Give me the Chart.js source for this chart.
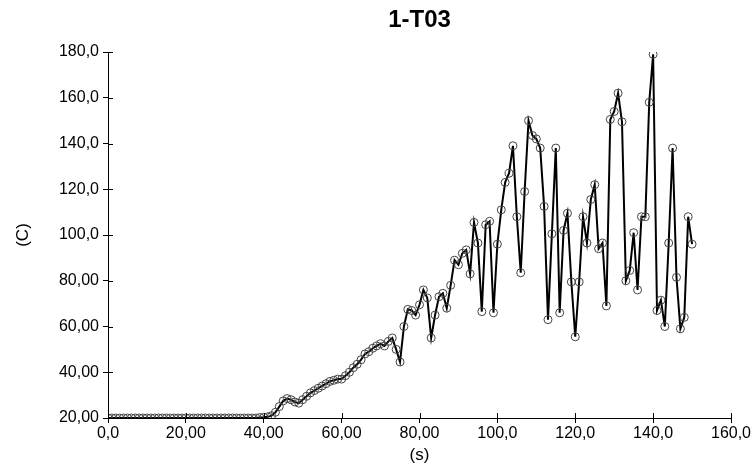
<!DOCTYPE html>
<html lang="en">
  <head>
    <meta charset="UTF-8" />
    <title>1-T03</title>
    <script src="https://cdn.jsdelivr.net/npm/chart.js"></script>
    <style>
      html, body { margin: 0; padding: 0; background: #fff; }
      .chart-box { width: 753px; height: 466px; }
    </style>
  </head>
  <body>
    <div class="chart-box">
      <canvas id="lineChart"></canvas>
    </div>
    <script>
      // time (s)
      const times = [
        0, 1, 2, 3, 4, 5, 6, 7, 8, 9, 10, 11, 12, 13, 14, 15, 16, 17, 18, 19,
        20, 21, 22, 23, 24, 25, 26, 27, 28, 29, 30, 31, 32, 33, 34, 35, 36, 37, 38, 39,
        40, 41, 42, 43, 44, 45, 46, 47, 48, 49, 50, 51, 52, 53, 54, 55, 56, 57, 58, 59,
        60, 61, 62, 63, 64, 65, 66, 67, 68, 69, 70, 71, 72, 73, 74, 75, 76, 77, 78, 79,
        80, 81, 82, 83, 84, 85, 86, 87, 88, 89, 90, 91, 92, 93, 94, 95, 96, 97, 98, 99,
        100, 101, 102, 103, 104, 105, 106, 107, 108, 109, 110, 111, 112, 113, 114, 115, 116, 117, 118, 119,
        120, 121, 122, 123, 124, 125, 126, 127, 128, 129, 130, 131, 132, 133, 134, 135, 136, 137, 138, 139,
        140, 141, 142, 143, 144, 145, 146, 147, 148, 149, 150
      ];
      // temperature (C)
      const temps = [
        20, 20, 20, 20, 20, 20, 20, 20, 20, 20, 20, 20, 20, 20, 20, 20, 20, 20, 20, 20,
        20, 20, 20, 20, 20, 20, 20, 20, 20, 20, 20, 20, 20, 20, 20, 20, 20, 20, 20, 20.2,
        20.3, 20.5, 21, 22.5, 25, 27.5, 28.5, 28, 27, 26.5, 28, 29.5, 31, 32, 33, 34, 35, 36, 36.5, 37,
        37, 38.5, 40, 42, 43.5, 45.5, 48, 49, 50.5, 51.5, 52.5, 51.5, 53.5, 55, 50, 44.5, 60, 67.5, 67, 65,
        69.5, 76, 72.5, 55, 65, 73, 74.5, 68, 78, 89, 87, 92, 93.5, 83, 105.5, 96.5, 66.5, 104.5, 106, 66,
        96, 111, 123, 127, 139, 108, 83.5, 119, 150, 143.5, 142, 138, 112.5, 63, 100.5, 138, 66, 102, 109.5, 79.5,
        55.5, 79.5, 108, 96.5, 115.5, 122, 94, 96.5, 69, 150.5, 154, 162, 149.5, 80, 84.5, 101, 76, 108, 108, 158,
        179, 67, 71.5, 60, 96.5, 138, 81.5, 59, 64, 108, 96
      ];
      const xTickLabels = ["0,0", "20,00", "40,00", "60,00", "80,00", "100,0", "120,0", "140,0", "160,0"];
      const yTickLabels = ["20,00", "40,00", "60,00", "80,00", "100,0", "120,0", "140,0", "160,0", "180,0"];

      const points = times.map((t, i) => ({ x: t, y: temps[i] }));

      // ticks crossing the axis line (inner half)
      const crossTicks = {
        id: "crossTicks",
        afterDraw(chart) {
          const c = chart.ctx;
          const xs = chart.scales.x;
          const ys = chart.scales.y;
          c.save();
          c.strokeStyle = "#000";
          c.lineWidth = 1;
          c.beginPath();
          xs.ticks.forEach((t, i) => {
            const px = Math.round(xs.getPixelForTick(i)) + 0.5;
            c.moveTo(px, ys.bottom);
            c.lineTo(px, ys.bottom - 5);
          });
          ys.ticks.forEach((t, i) => {
            const py = Math.round(ys.getPixelForTick(i)) + 0.5;
            c.moveTo(xs.left, py);
            c.lineTo(xs.left + 5, py);
          });
          c.stroke();
          c.restore();
        },
      };

      const ctx = document.getElementById("lineChart").getContext("2d");
      const lineChart = new Chart(ctx, {
        type: "line",
        data: {
          datasets: [
            {
              label: "1-T03",
              data: points,
              borderColor: "#000",
              borderWidth: 2,
              pointRadius: 4,
              pointBorderWidth: 1,
              pointBorderColor: "#444",
              pointBackgroundColor: "rgba(0,0,0,0)",
              tension: 0,
            },
          ],
        },
        options: {
          responsive: true,
          maintainAspectRatio: false,
          animation: false,
          layout: { padding: { left: 0, right: 22, top: 0, bottom: 0 } },
          plugins: {
            legend: { display: false },
            tooltip: { enabled: false },
            title: {
              display: true,
              fullSize: false,
              text: "1-T03",
              color: "#000",
              font: { family: "Liberation Sans", size: 24, weight: "bold" },
              padding: { top: 6, bottom: 17.2 },
            },
          },
          scales: {
            x: {
              type: "linear",
              min: 0,
              max: 160,
              afterFit(s) { s.height = 48; },
              ticks: {
                stepSize: 20,
                color: "#000",
                maxRotation: 0,
                padding: 1,
                font: { family: "Liberation Sans", size: 16 },
                callback: (v, i) => xTickLabels[i],
              },
              grid: { drawOnChartArea: false, drawTicks: true, tickLength: 5, color: "#000" },
              border: { display: true, color: "#000", width: 1 },
              title: {
                display: true,
                text: "(s)",
                color: "#000",
                font: { family: "Liberation Sans", size: 17 },
                padding: { top: 0, bottom: 0 },
              },
            },
            y: {
              min: 20,
              max: 180,
              afterFit(s) { s.width = 108; },
              ticks: {
                stepSize: 20,
                color: "#000",
                padding: 4,
                font: { family: "Liberation Sans", size: 16 },
                callback: (v, i) => yTickLabels[i],
              },
              grid: { drawOnChartArea: false, drawTicks: true, tickLength: 5, color: "#000" },
              border: { display: true, color: "#000", width: 1 },
              title: {
                display: true,
                text: "(C)",
                color: "#000",
                font: { family: "Liberation Sans", size: 17 },
                padding: { top: 13, bottom: 0 },
              },
            },
          },
        },
        plugins: [crossTicks],
      });
    </script>
  </body>
</html>
